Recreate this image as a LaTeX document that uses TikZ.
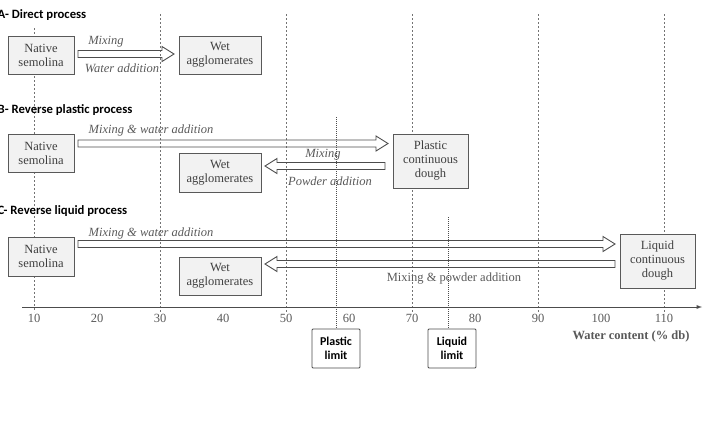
\documentclass[tikz,border=0pt]{standalone}
\usepackage{fontspec}
\setmainfont{Liberation Serif}
\newfontfamily\carl{Carlito}
\usetikzlibrary{calc}
\newcommand\arrR[2]{\draw[hollow] ($(#1)+(0,-3.5)$) -- ($(#2)+(-12,-3.5)$) -- ($(#2)+(-12,-7.5)$) -- (#2) -- ($(#2)+(-12,7.5)$) -- ($(#2)+(-12,3.5)$) -- ($(#1)+(0,3.5)$) -- cycle;}
\newcommand\arrL[2]{\draw[hollow] ($(#1)+(0,-3.5)$) -- ($(#2)+(12,-3.5)$) -- ($(#2)+(12,-7.5)$) -- (#2) -- ($(#2)+(12,7.5)$) -- ($(#2)+(12,3.5)$) -- ($(#1)+(0,3.5)$) -- cycle;}
\begin{document}
\begin{tikzpicture}[x=1pt,y=-1pt,
 box/.style={draw=black!65, fill=black!5, line width=0.9pt, align=center, inner sep=0pt, font=\fontsize{12.5}{14}\selectfont, text=black!75},
 hollow/.style={draw=black!70, line width=0.9pt, line join=miter},
 grid/.style={draw=black!55, line width=1pt, dash pattern=on 2pt off 2pt},
 lim/.style={draw=black!70, line width=0.7pt, dash pattern=on 1pt off 1pt},
 lbl/.style={font=\fontsize{12.5}{14}\selectfont\itshape, text=black!65, inner sep=0pt},
 tick/.style={font=\fontsize{12.5}{14}\selectfont, text=black!65, inner sep=0pt},
 sec/.style={font=\carl\bfseries\fontsize{12.7}{14}\selectfont, anchor=west, inner sep=0pt},
 limbox/.style={draw=black!70, line width=0.9pt, fill=white, align=center, inner sep=0pt, font=\carl\bfseries\fontsize{12}{14}\selectfont, rounded corners=1pt, minimum width=48pt, minimum height=39pt}]
\useasboundingbox (0,0) rectangle (705,434);

% grid lines
\draw[grid] (34,28) -- (34,312);
\foreach \xx in {160,286,412,538,664} \draw[grid] (\xx,14) -- (\xx,312);

% axis
\coordinate (ax0) at (22,307);
\coordinate (ax1) at (702,307);
\draw[black!70, line width=0.9pt, -{latex}] (ax0) -- (ax1);
\foreach \v in {10,20,...,110} \node[tick] at ({34+6.3*(\v-10)},318) {\v};
\node[tick, font=\fontsize{12.5}{14}\selectfont\bfseries] (wc) at (631,336) {Water content (\% db)};

% limits
\node[limbox] (pl) at (336,348.5) {Plastic\\limit};
\node[limbox] (ll) at (452,348.5) {Liquid\\limit};
\coordinate (plt) at (336,117);
\coordinate (llt) at (448,217);
\draw[lim] (plt) -- (plt |- pl.north);
\draw[lim] (llt) -- (llt |- ll.north);

% section titles
\node[sec] (tA) at (-2.5,15) {A- Direct process};
\node[sec] (tB) at (-2.5,110) {B- Reverse plastic process};
\node[sec] (tC) at (-2.5,211) {C- Reverse liquid process};

% A
\node[box, minimum width=66pt, minimum height=38pt] (nsA) at (41,55) {Native\\semolina};
\node[box, minimum width=82pt, minimum height=38pt] (waA) at (220,55) {Wet\\agglomerates};
\coordinate (a1) at (78,54);
\coordinate (a2) at (174,54);
\arrR{a1}{a2}
\node[lbl] (mA) at (106,42) {Mixing};
\node[lbl] (wA) at (122,68) {Water addition};

% B
\node[box, minimum width=66pt, minimum height=38pt] (nsB) at (41,153) {Native\\semolina};
\node[box, minimum width=75pt, minimum height=54pt] (pcB) at (430.5,161) {Plastic\\continuous\\dough};
\node[box, minimum width=82pt, minimum height=39pt] (waB) at (220,172.5) {Wet\\agglomerates};
\coordinate (b1) at (78,143.5);
\coordinate (b2) at (388,143.5);
\arrR{b1}{b2}
\coordinate (b3) at (385,166);
\coordinate (b4) at (265,166);
\arrL{b3}{b4}
\node[lbl] (mB) at (151,130) {Mixing \& water addition};
\node[lbl] (mB2) at (323,155) {Mixing};
\node[lbl] (pB) at (330,181) {Powder addition};

% C
\node[box, minimum width=66pt, minimum height=39pt] (nsC) at (41,256.5) {Native\\semolina};
\node[box, minimum width=75pt, minimum height=54pt] (lcC) at (657.5,261) {Liquid\\continuous\\dough};
\node[box, minimum width=82pt, minimum height=38pt] (waC) at (220,276) {Wet\\agglomerates};
\coordinate (c1) at (78,244);
\coordinate (c2) at (615,244);
\arrR{c1}{c2}
\coordinate (c3) at (615,264);
\coordinate (c4) at (265,264);
\arrL{c3}{c4}
\node[lbl] (mC) at (151,233) {Mixing \& water addition};
\node[tick] (pC) at (454,279) {Mixing \& powder addition};
\end{tikzpicture}
\end{document}
